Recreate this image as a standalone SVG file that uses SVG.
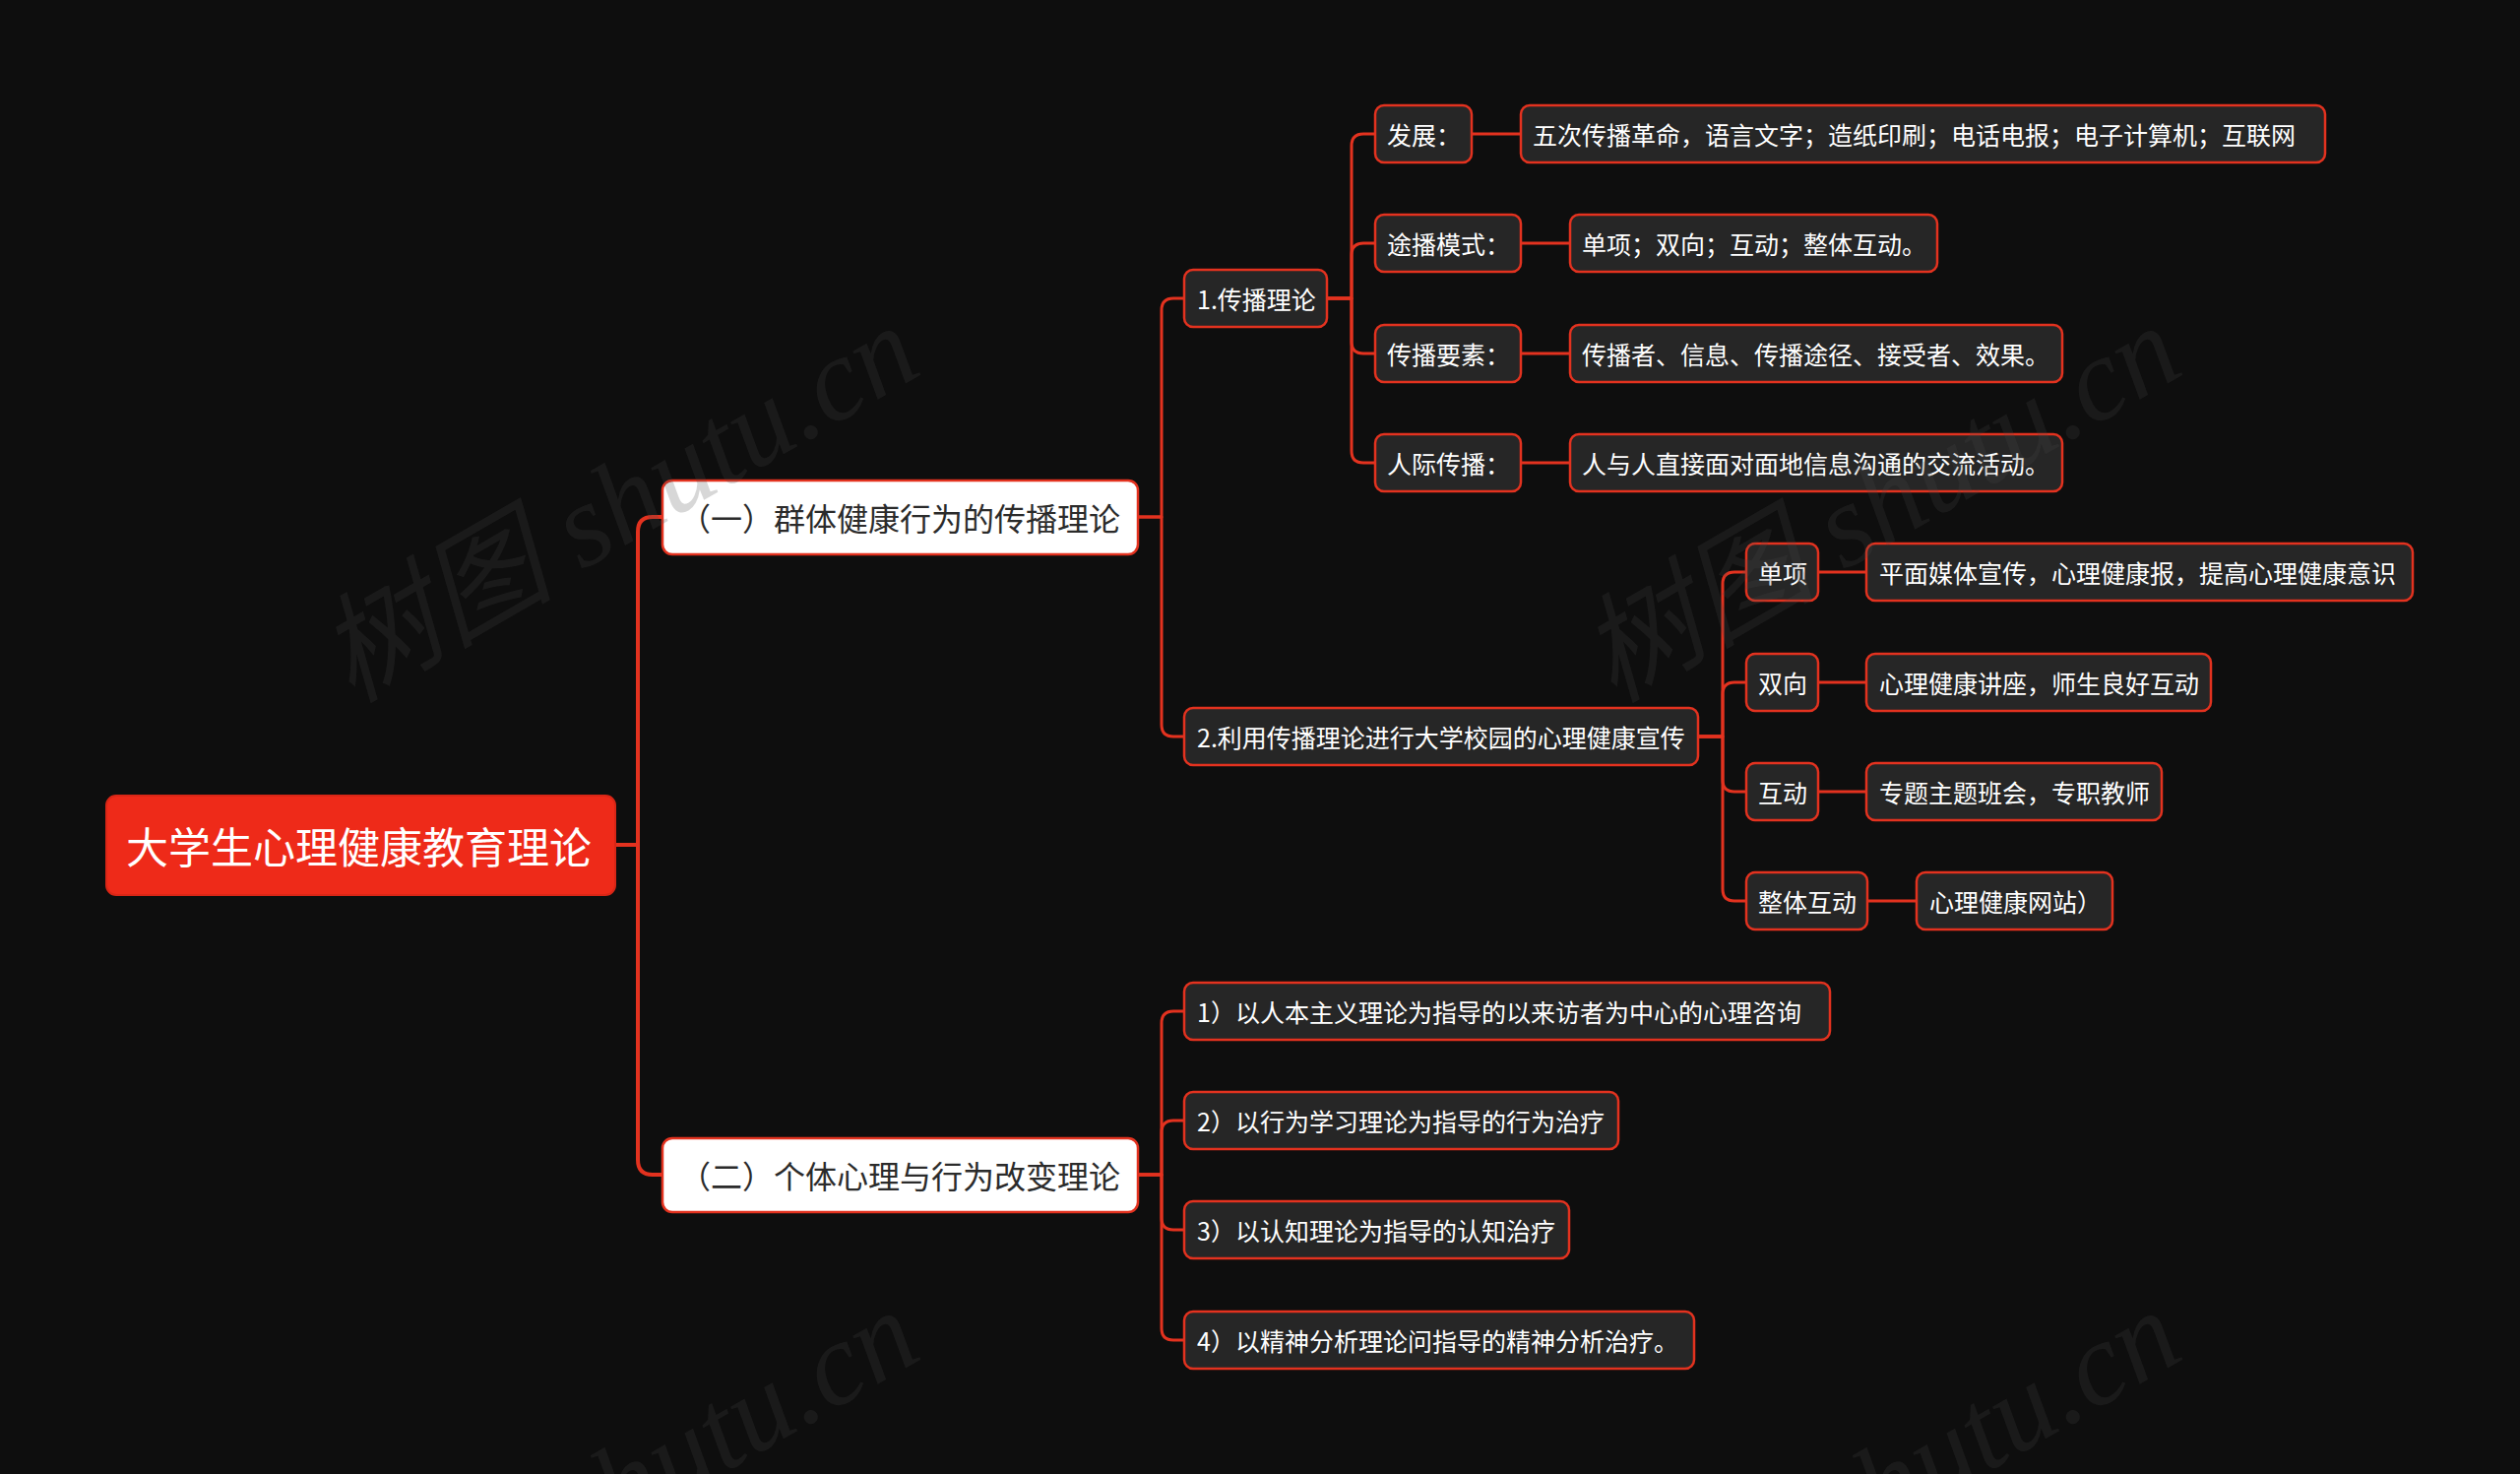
<svg xmlns="http://www.w3.org/2000/svg" width="2560" height="1497" viewBox="0 0 2560 1497">
<defs>
<style>
.bg{fill:#0e0e0e}
.conn path{fill:none;stroke:#e3321f;stroke-width:3;stroke-linecap:round;stroke-linejoin:round}
.conn path.main{stroke-width:4}
.root rect{fill:#ee2a19;stroke:#d92616;stroke-width:2}
.root text{fill:#ffffff;font-size:43px}
.l1 rect{fill:#ffffff;stroke:#e3321f;stroke-width:2.5}
.l1 text{fill:#2b2b2b;font-size:32px}
.n rect{fill:#262626;stroke:#e3321f;stroke-width:2.5}
.n text{fill:#ffffff;font-size:25px}
text{font-family:"Noto Sans CJK SC","Noto Sans",sans-serif;dominant-baseline:central}
.wm text{font-family:"Liberation Serif","Noto Sans CJK SC",serif;font-style:italic;font-size:120px;fill:#484848;fill-opacity:0.22;dominant-baseline:alphabetic}
</style>
</defs>
<rect class="bg" x="0" y="0" width="2560" height="1497"/>

<g id="connectors" class="conn">
<path class="main" d="M625,858 H648 V540 Q648,525 663,525 H673"/>
<path class="main" d="M625,858 H648 V1178 Q648,1193 663,1193 H673"/>
<path d="M1156,525 H1180 V315 Q1180,303 1192,303 H1203"/>
<path d="M1156,525 H1180 V736 Q1180,748 1192,748 H1203"/>
<path d="M1156,1193 H1180 V1039 Q1180,1027 1192,1027 H1203"/>
<path d="M1156,1193 H1180 V1150 Q1180,1138 1192,1138 H1203"/>
<path d="M1156,1193 H1180 V1237 Q1180,1249 1192,1249 H1203"/>
<path d="M1156,1193 H1180 V1349 Q1180,1361 1192,1361 H1203"/>
<path d="M1348,303 H1373 V148 Q1373,136 1385,136 H1397"/>
<path d="M1348,303 H1373 V259 Q1373,247 1385,247 H1397"/>
<path d="M1348,303 H1373 V347 Q1373,359 1385,359 H1397"/>
<path d="M1348,303 H1373 V458 Q1373,470 1385,470 H1397"/>
<path d="M1725,748 H1750 V593 Q1750,581 1762,581 H1774"/>
<path d="M1725,748 H1750 V705 Q1750,693 1762,693 H1774"/>
<path d="M1725,748 H1750 V792 Q1750,804 1762,804 H1774"/>
<path d="M1725,748 H1750 V903 Q1750,915 1762,915 H1774"/>
<path d="M1495,136 H1545"/>
<path d="M1545,247 H1595"/>
<path d="M1545,359 H1595"/>
<path d="M1545,470 H1595"/>
<path d="M1847,581 H1896"/>
<path d="M1847,693 H1896"/>
<path d="M1847,804 H1896"/>
<path d="M1897,915 H1947"/>
</g>

<g id="root" class="root"><rect x="108" y="808" width="517" height="101" rx="10"/><text x="128" y="858">大学生心理健康教育理论</text></g>

<g id="g1" class="l1"><rect x="673" y="488" width="483" height="75" rx="10"/><text x="690" y="525">（一）群体健康行为的传播理论</text></g>
<g id="g2" class="l1"><rect x="673" y="1156" width="483" height="75" rx="10"/><text x="690" y="1193">（二）个体心理与行为改变理论</text></g>

<g id="n1" class="n"><rect x="1203" y="274" width="145" height="58" rx="9"/><text x="1216" y="303">1.传播理论</text></g>
<g id="n2" class="n"><rect x="1203" y="719" width="522" height="58" rx="9"/><text x="1216" y="748">2.利用传播理论进行大学校园的心理健康宣传</text></g>

<g id="n11" class="n"><rect x="1397" y="107" width="98" height="58" rx="9"/><text x="1409" y="136">发展：</text></g>
<g id="n11a" class="n"><rect x="1545" y="107" width="817" height="58" rx="9"/><text x="1557" y="136">五次传播革命，语言文字；造纸印刷；电话电报；电子计算机；互联网</text></g>
<g id="n12" class="n"><rect x="1397" y="218" width="148" height="58" rx="9"/><text x="1409" y="247">途播模式：</text></g>
<g id="n12a" class="n"><rect x="1595" y="218" width="373" height="58" rx="9"/><text x="1607" y="247">单项；双向；互动；整体互动。</text></g>
<g id="n13" class="n"><rect x="1397" y="330" width="148" height="58" rx="9"/><text x="1409" y="359">传播要素：</text></g>
<g id="n13a" class="n"><rect x="1595" y="330" width="500" height="58" rx="9"/><text x="1607" y="359">传播者、信息、传播途径、接受者、效果。</text></g>
<g id="n14" class="n"><rect x="1397" y="441" width="148" height="58" rx="9"/><text x="1409" y="470">人际传播：</text></g>
<g id="n14a" class="n"><rect x="1595" y="441" width="500" height="58" rx="9"/><text x="1607" y="470">人与人直接面对面地信息沟通的交流活动。</text></g>

<g id="n21" class="n"><rect x="1774" y="552" width="73" height="58" rx="9"/><text x="1786" y="581">单项</text></g>
<g id="n21a" class="n"><rect x="1896" y="552" width="555" height="58" rx="9"/><text x="1909" y="581">平面媒体宣传，心理健康报，提高心理健康意识</text></g>
<g id="n22" class="n"><rect x="1774" y="664" width="73" height="58" rx="9"/><text x="1786" y="693">双向</text></g>
<g id="n22a" class="n"><rect x="1896" y="664" width="350" height="58" rx="9"/><text x="1909" y="693">心理健康讲座，师生良好互动</text></g>
<g id="n23" class="n"><rect x="1774" y="775" width="73" height="58" rx="9"/><text x="1786" y="804">互动</text></g>
<g id="n23a" class="n"><rect x="1896" y="775" width="300" height="58" rx="9"/><text x="1909" y="804">专题主题班会，专职教师</text></g>
<g id="n24" class="n"><rect x="1774" y="886" width="123" height="58" rx="9"/><text x="1786" y="915">整体互动</text></g>
<g id="n24a" class="n"><rect x="1947" y="886" width="199" height="58" rx="9"/><text x="1960" y="915">心理健康网站）</text></g>

<g id="m1" class="n"><rect x="1203" y="998" width="656" height="58" rx="9"/><text x="1216" y="1027">1）以人本主义理论为指导的以来访者为中心的心理咨询</text></g>
<g id="m2" class="n"><rect x="1203" y="1109" width="441" height="58" rx="9"/><text x="1216" y="1138">2）以行为学习理论为指导的行为治疗</text></g>
<g id="m3" class="n"><rect x="1203" y="1220" width="391" height="58" rx="9"/><text x="1216" y="1249">3）以认知理论为指导的认知治疗</text></g>
<g id="m4" class="n"><rect x="1203" y="1332" width="518" height="58" rx="9"/><text x="1216" y="1361">4）以精神分析理论问指导的精神分析治疗。</text></g>

<g id="watermark" class="wm">
<text x="940" y="378" text-anchor="end" transform="rotate(-30 940 378)">树图 shutu.cn</text>
<text x="2222" y="378" text-anchor="end" transform="rotate(-30 2222 378)">树图 shutu.cn</text>
<text x="940" y="1378" text-anchor="end" transform="rotate(-30 940 1378)">树图 shutu.cn</text>
<text x="2222" y="1378" text-anchor="end" transform="rotate(-30 2222 1378)">树图 shutu.cn</text>
</g>
</svg>
